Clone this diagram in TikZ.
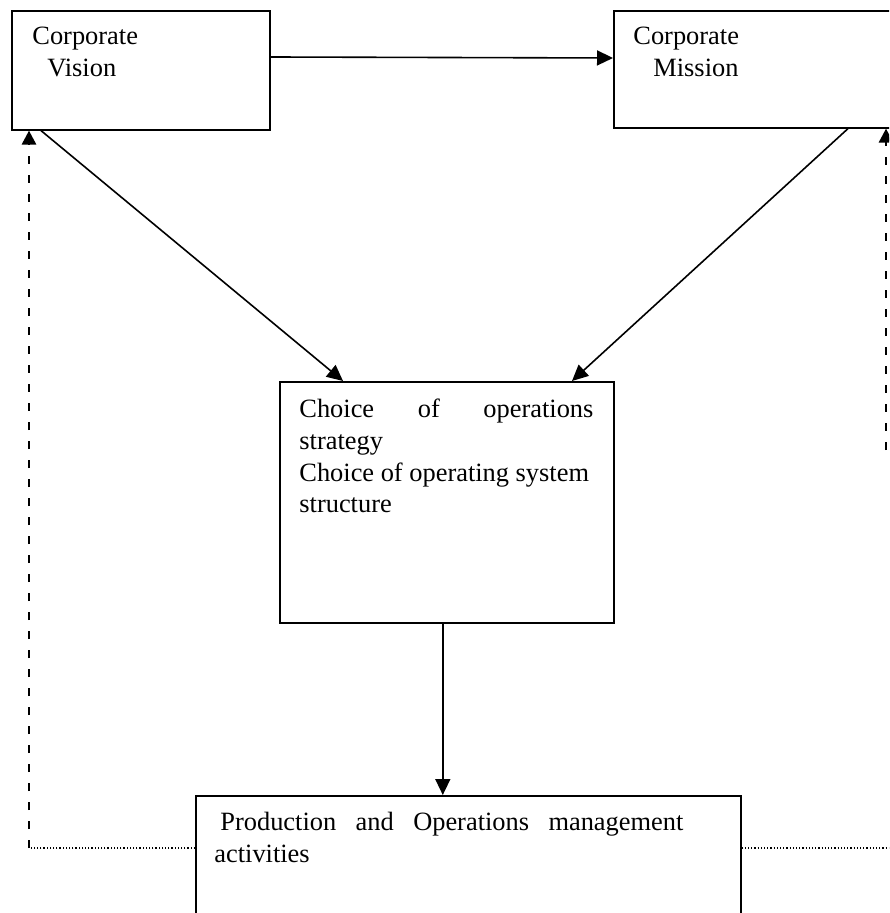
\documentclass[tikz,border=0pt]{standalone}
\usepackage{fontspec}
\setmainfont{Liberation Serif}
\usetikzlibrary{arrows.meta,positioning}

\begin{document}
\begin{tikzpicture}[x=0.5pt,y=-0.5pt,
    box/.style={draw,line width=0.8pt,anchor=north west,inner sep=0pt},
    txt/.style={anchor=north west,inner sep=0pt,align=left,font=\fontsize{13.2}{15.8}\selectfont},
    arr/.style={line width=0.8pt,-{Triangle[length=8pt,width=7.5pt]}},
    fb/.style={line width=1.4pt,dash pattern=on 4pt off 5.5pt,-{Triangle[length=7pt,width=7pt]}},
    dots/.style={line width=0.6pt,dash pattern=on 0.6pt off 1pt}]
        \useasboundingbox (0,0) rectangle (889,913);
        \clip (0,0) rectangle (889,913);
        % boxes
        \node [box,minimum width=129pt,minimum height=59.5pt] (vision) at (11,10) {};
        \node [box,minimum width=173.5pt,minimum height=58.5pt] (mission) at (613,10) {};
        \node [box,minimum width=167pt,minimum height=120.5pt] (mid) at (279,381) {};
        \node [box,minimum width=272.5pt,minimum height=100pt] (pom) at (195,795) {};
        % texts
        \node [txt,below right=8.5pt and 10.5pt of vision.north west] (visiontxt) {Corporate\\\hspace*{7.5pt}Vision};
        \node [txt,below right=8.5pt and 10pt of mission.north west] (missiontxt) {Corporate\\\hspace*{10pt}Mission};
        \node [txt,below right=9pt and 10pt of mid.north west] (midtxt) {\hbox to 147pt{Choice\hfill of\hfill operations}\\strategy\\Choice of operating system\\structure};
        \node [txt,below right=8.5pt and 9.5pt of pom.north west] (pomtxt) {\hbox to 234.5pt{\hspace{3pt}Production\hfill and\hfill Operations\hfill management}\\activities};
        % arrows
        \draw [arr] ([yshift=-23.5pt]vision.north east) -- ([yshift=-24pt]mission.north west);
        \draw [arr] ([xshift=15pt]vision.south west) -- ([xshift=32pt]mid.north west);
        \draw [arr] ([xshift=117.5pt]mission.south west) -- ([xshift=146.5pt]mid.north west);
        \draw [arr] ([xshift=-2pt]mid.south) coordinate (drop) -- (drop |- pom.north);
        % feedback
        \coordinate (fbleft) at (29,848);
        \coordinate (fbright) at (886,450);
        \coordinate (edge) at (895,848);
        \draw [dots] ([yshift=-26.5pt]pom.north west) -- (fbleft);
        \draw [fb] (fbleft) -- (fbleft |- vision.south);
        \draw [dots] ([yshift=-26.5pt]pom.north east) -- (edge);
        \draw [fb] (fbright) -- (fbright |- mission.south);
    \end{tikzpicture}
\end{document}
